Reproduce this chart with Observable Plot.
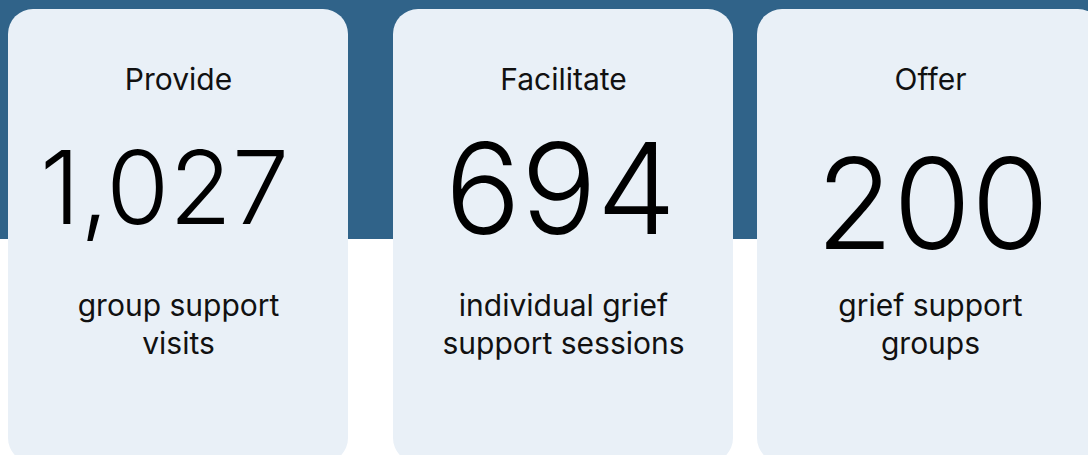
<!DOCTYPE html>
<html>
<head>
<meta charset="utf-8">
<script src="https://cdn.jsdelivr.net/npm/d3@7"></script>
<script src="https://cdn.jsdelivr.net/npm/@observablehq/plot@0.6"></script>
<style>
  html, body { margin: 0; padding: 0; background: #ffffff; overflow: hidden; }
  #chart svg { display: block; }
</style>
</head>
<body>
<div id="chart"></div>
<script>
// Data
const verbs = ["Provide", "Facilitate", "Offer"];
const values = [1027, 694, 200];
const descriptions = ["group support\nvisits", "individual grief\nsupport sessions", "grief support\ngroups"];

// Layout (not data)
const cardLeft = [8, 393, 757];
const cardRight = [348, 733, 1103];
const numberSize = [102, 126, 126];
const numberY = [191, 193, 208];
const numberDx = [-14, -3, 2];
const numberSpacing = ["-0.04em", "0.01em", "0.03em"];

const cards = verbs.map((v, i) => ({
  verb: v,
  value: values[i],
  label: d3.format(",")(values[i]),
  desc: descriptions[i],
  x1: cardLeft[i],
  x2: cardRight[i],
  cx: (cardLeft[i] + cardRight[i]) / 2,
  nx: (cardLeft[i] + cardRight[i]) / 2 + numberDx[i],
  ny: numberY[i],
  ns: numberSize[i],
  ls: numberSpacing[i]
}));

const font = "Inter, 'DejaVu Sans', sans-serif";

const marks = [
  Plot.rect([{}], {x1: -10, x2: 1100, y1: -10, y2: 239, fill: "#306389"}),
  Plot.rect(cards, {x1: "x1", x2: "x2", y1: 9, y2: 463, fill: "#e9f0f7", rx: 25, ry: 25}),
  Plot.text(cards, {x: "cx", y: 80, text: "verb", fontSize: 30, fontFamily: font, fill: "#111111", lineAnchor: "middle", textAnchor: "middle", letterSpacing: "0.01em"})
];
cards.forEach(c => {
  marks.push(Plot.text([c], {x: "nx", y: "ny", text: "label", fontSize: c.ns, fontWeight: 300, fontFamily: font, fill: "#000000", lineAnchor: "middle", textAnchor: "middle", letterSpacing: c.ls}));
});
marks.push(Plot.text(cards, {x: "cx", y: 322, text: "desc", fontSize: 30, fontFamily: font, fill: "#111111", lineAnchor: "middle", textAnchor: "middle", lineHeight: 1.27, letterSpacing: "0.025em"}));

const chart = Plot.plot({
  width: 1088,
  height: 455,
  margin: 0,
  style: {background: "#ffffff", overflow: "hidden"},
  x: {type: "linear", domain: [0, 1088], range: [0, 1088], axis: null},
  y: {type: "linear", domain: [0, 455], range: [0, 455], axis: null},
  marks
});
document.getElementById("chart").appendChild(chart);
</script>
</body>
</html>
